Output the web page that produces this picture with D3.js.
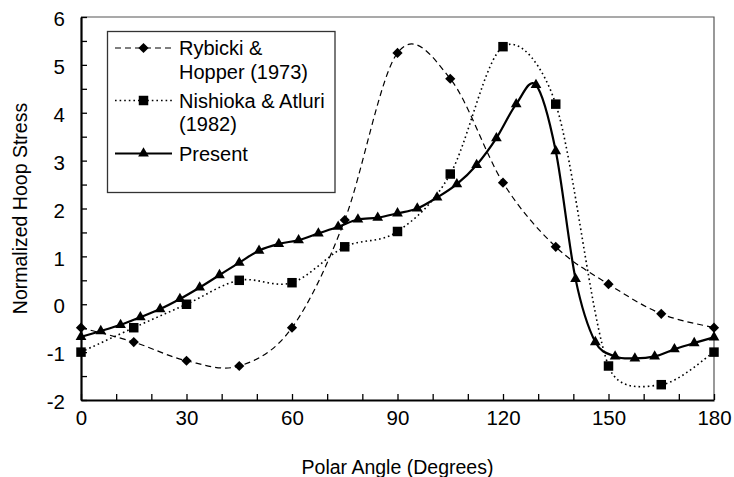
<!DOCTYPE html>
<html>
<head>
<meta charset="utf-8">
<script src="https://cdn.jsdelivr.net/npm/d3@7"></script>
<style>
	body { margin: 0; background: #fff; }
	svg text { font-family: "Liberation Sans", Arial, sans-serif; fill: #000; }
</style>
</head>
<body>
<div id="chart"></div>
<script>
'use strict';

// angles (degrees)
var refAngles = [0, 15, 30, 45, 60, 75, 90, 105, 120, 135, 150, 165, 180];
var rybicki = [-0.49, -0.79, -1.18, -1.29, -0.49, 1.76, 5.25, 4.71, 2.54, 1.20, 0.42, -0.20, -0.49];
var nishioka = [-1.00, -0.49, 0.00, 0.50, 0.45, 1.20, 1.52, 2.72, 5.38, 4.18, -1.29, -1.68, -1.00];

var presentAngles = [0, 5.625, 11.25, 16.875, 22.5, 28.125, 33.75, 39.375, 45, 50.625, 56.25,
	61.875, 67.5, 73.125, 78.75, 84.375, 90, 95.625, 101.25, 106.875, 112.5, 118.125, 123.75,
	129.375, 135, 140.625, 146.25, 151.875, 157.5, 163.125, 168.75, 174.375, 180];
var present = [-0.68, -0.56, -0.43, -0.27, -0.10, 0.11, 0.35, 0.61, 0.87, 1.12, 1.26,
	1.34, 1.48, 1.62, 1.77, 1.81, 1.90, 2.00, 2.23, 2.51, 2.91, 3.47, 4.18,
	4.58, 3.20, 0.53, -0.79, -1.09, -1.13, -1.09, -0.94, -0.81, -0.69];

var xTicks = [0, 10, 20, 30, 40, 50, 60, 70, 80, 90, 100, 110, 120, 130, 140, 150, 160, 170, 180];
var yTicks = [-2, -1.5, -1, -0.5, 0, 0.5, 1, 1.5, 2, 2.5, 3, 3.5, 4, 4.5, 5, 5.5, 6];

var legendLabels = [
	['Rybicki &', 'Hopper (1973)'],
	['Nishioka & Atluri', '(1982)'],
	['Present']
];

var width = 734, height = 477;
var margin = { top: 17, right: 20, bottom: 77, left: 81 };

var svg = d3.select('#chart').append('svg')
	.attr('width', width)
	.attr('height', height);

var x = d3.scaleLinear().domain([0, 180]).range([margin.left, width - margin.right]);
var y = d3.scaleLinear().domain([-2, 6]).range([height - margin.bottom, margin.top]);

// thin frame on top and right
svg.append('path')
	.attr('d', 'M' + x(0) + ',' + y(6) + 'H' + x(180) + 'V' + y(-2))
	.style('fill', 'none')
	.style('stroke', '#555')
	.style('stroke-width', 1.2);

var xAxis = svg.append('g')
	.attr('transform', 'translate(0,' + y(-2) + ')')
	.call(d3.axisBottom(x)
		.tickValues(xTicks)
		.tickSizeInner(-6)
		.tickSizeOuter(0)
		.tickPadding(25)
		.tickFormat(function(d) { return d % 30 === 0 ? d : ''; }));

var yAxis = svg.append('g')
	.attr('transform', 'translate(' + x(0) + ',0)')
	.call(d3.axisLeft(y)
		.tickValues(yTicks)
		.tickSizeInner(-6)
		.tickSizeOuter(0)
		.tickPadding(16)
		.tickFormat(function(d) { return d % 1 === 0 ? d : ''; }));

[xAxis, yAxis].forEach(function(ax) {
	ax.select('.domain').style('stroke', '#000').style('stroke-width', 2.2);
	ax.selectAll('.tick line').style('stroke', '#000').style('stroke-width', 1.3);
	ax.selectAll('.tick text')
		.style('font-size', '20.5px')
		.style('font-family', '"Liberation Sans", Arial, sans-serif')
		.attr('fill', '#000');
});
xAxis.selectAll('.tick text').attr('dy', '0.01em');
yAxis.selectAll('.tick text').attr('dy', '0.42em');

svg.append('text')
	.attr('x', (x(0) + x(180)) / 2)
	.attr('y', 474)
	.attr('text-anchor', 'middle')
	.style('font-size', '19.5px')
	.text('Polar Angle (Degrees)');

svg.append('text')
	.attr('transform', 'translate(27,' + (y(-2) + y(6)) / 2 + ') rotate(-90)')
	.attr('text-anchor', 'middle')
	.style('font-size', '19.5px')
	.text('Normalized Hoop Stress');

// spreadsheet-style smoothing: bezier with 1/6 tangents, shortened on short segments
function smoothPath(pts) {
	var p = d3.path();
	var dist = function(a, b) { return Math.hypot(b[0] - a[0], b[1] - a[1]); };
	p.moveTo(pts[0][0], pts[0][1]);
	for (var i = 0; i < pts.length - 1; i++) {
		var p0 = pts[Math.max(i - 1, 0)], p1 = pts[i], p2 = pts[i + 1], p3 = pts[Math.min(i + 2, pts.length - 1)];
		var d02 = dist(p0, p2), d12 = dist(p1, p2), d13 = dist(p1, p3);
		var f0 = 1 / 6, f3 = 1 / 6;
		if (d02 / 6 >= d12 / 2 && d02 > 0) f0 = d12 / d02 / 2;
		if (d13 / 6 >= d12 / 2 && d13 > 0) f3 = d12 / d13 / 2;
		p.bezierCurveTo(
			p1[0] + (p2[0] - p0[0]) * f0, p1[1] + (p2[1] - p0[1]) * f0,
			p2[0] + (p1[0] - p3[0]) * f3, p2[1] + (p1[1] - p3[1]) * f3,
			p2[0], p2[1]);
	}
	return p.toString();
}

var series = [
	{ angles: refAngles, values: rybicki, dash: '6,4', width: 1.2, symbol: 'diamond' },
	{ angles: refAngles, values: nishioka, dash: '1.6,3', width: 1.6, symbol: 'square' },
	{ angles: presentAngles, values: present, dash: null, width: 2.2, symbol: 'triangle' }
];

function marker(sel, kind) {
	if (kind === 'diamond') {
		sel.attr('d', d3.symbol(d3.symbolSquare, 52)())
			.attr('transform', function(d) { return 'translate(' + d[0] + ',' + d[1] + ') rotate(45)'; });
	} else if (kind === 'square') {
		sel.attr('d', d3.symbol(d3.symbolSquare, 90)())
			.attr('transform', function(d) { return 'translate(' + d[0] + ',' + d[1] + ')'; });
	} else {
		sel.attr('d', d3.symbol(d3.symbolTriangle, 50)())
			.attr('transform', function(d) { return 'translate(' + d[0] + ',' + d[1] + ')'; });
	}
	sel.style('fill', '#000').style('stroke', 'none');
}

series.forEach(function(s) {
	var pts = s.angles.map(function(a, i) { return [x(a), y(s.values[i])]; });
	svg.append('path')
		.attr('d', smoothPath(pts))
		.style('fill', 'none')
		.style('stroke', '#000')
		.style('stroke-width', s.width)
		.style('stroke-dasharray', s.dash);
	svg.append('g').selectAll('path')
		.data(pts)
		.join('path')
		.call(marker, s.symbol);
});

// legend
var legend = svg.append('g');
legend.append('rect')
	.attr('x', 107.5)
	.attr('y', 31.5)
	.attr('width', 227.5)
	.attr('height', 161)
	.style('fill', '#fff')
	.style('stroke', '#333')
	.style('stroke-width', 1.3);

var rowY = [55, 107.5, 160.5];
series.forEach(function(s, i) {
	var ly = rowY[i] - 7;
	legend.append('line')
		.attr('x1', 115).attr('x2', 172)
		.attr('y1', ly).attr('y2', ly)
		.style('stroke', '#000')
		.style('stroke-width', s.width)
		.style('stroke-dasharray', s.dash);
	legend.append('path')
		.datum([143.5, ly])
		.call(marker, s.symbol);
	legendLabels[i].forEach(function(t, j) {
		legend.append('text')
			.attr('x', 179)
			.attr('y', rowY[i] + j * 23.5)
			.style('font-size', '20px')
			.text(t);
	});
});
</script>
</body>
</html>
